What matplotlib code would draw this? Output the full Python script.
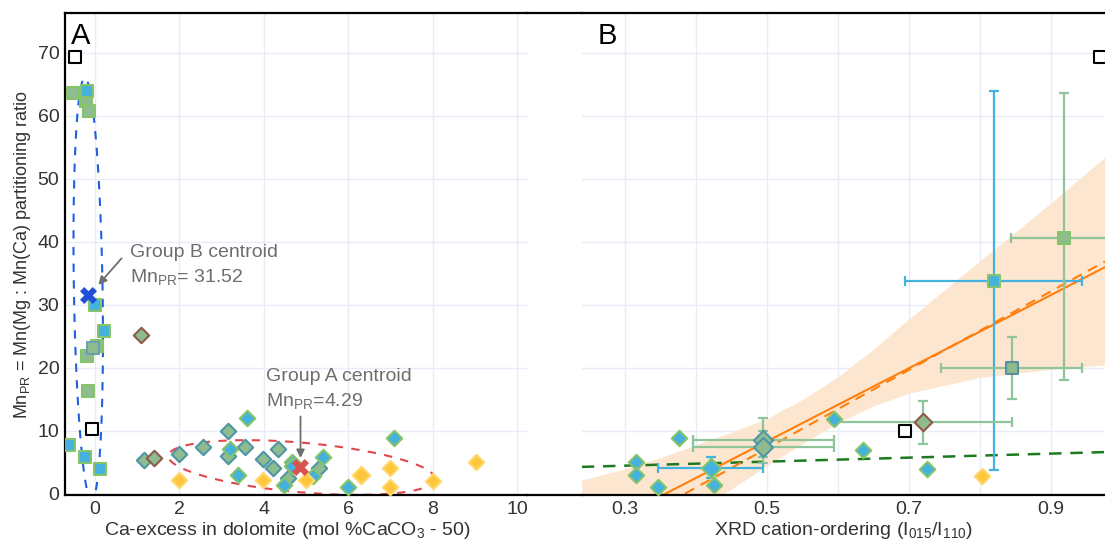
"""Mn partitioning ratio vs Ca-excess (A) and XRD cation ordering (B)."""

import numpy as np
import matplotlib
matplotlib.use("Agg")
import matplotlib.pyplot as plt
from matplotlib.lines import Line2D

plt.rcParams["font.family"] = ["Liberation Sans", "DejaVu Sans"]
plt.rcParams["mathtext.fontset"] = "custom"
plt.rcParams["mathtext.rm"] = "Liberation Sans"
plt.rcParams["mathtext.it"] = "Liberation Sans:italic"

# ---- panel A data (Ca-excess, MnPR) ----
a_open_x = [-0.47, -0.06]
a_open_y = [69.4, 10.3]
a_gsq_x = [-0.53, -0.21, -0.13, -0.18, -0.16, 0.05]
a_gsq_y = [63.7, 62.3, 60.8, 21.9, 16.3, 23.5]
a_tsq_x = [-0.04]
a_tsq_y = [23.1]
a_bsq_x = [-0.18, 0.0, 0.22, -0.61, -0.24, 0.13]
a_bsq_y = [63.9, 30.0, 25.8, 7.7, 5.9, 3.9]
a_tdia_x = [1.15, 2.0, 2.55, 3.16, 3.16, 3.56, 3.99, 4.21, 4.33, 4.57, 5.31]
a_tdia_y = [5.4, 6.3, 7.5, 10.0, 6.0, 7.4, 5.6, 4.1, 7.2, 2.6, 4.2]
a_brdia_x = [1.1, 1.4]
a_brdia_y = [25.2, 5.7]
a_bdia_x = [3.6, 3.2, 3.38, 4.49, 4.68, 4.68, 5.17, 5.41, 6.0, 7.09]
a_bdia_y = [12.0, 7.1, 3.0, 1.5, 5.1, 4.4, 2.9, 5.9, 1.1, 8.9]
a_ydia_x = [2.0, 3.99, 5.0, 7.0, 7.0, 8.02, 9.03]
a_ydia_y = [2.2, 2.2, 2.2, 4.1, 1.1, 2.0, 5.0]
a_ydia_big_x = [6.3]
a_ydia_big_y = [3.0]
centroid_b = (-0.16, 31.52)
centroid_a = (4.87, 4.29)

# ---- panel B data (XRD ordering, MnPR) ----
b_bdia_x = [0.376, 0.316, 0.316, 0.346, 0.426, 0.594, 0.635, 0.725]
b_bdia_y = [8.9, 5.0, 3.0, 1.1, 1.5, 11.9, 7.0, 4.0]
b_ydia_x = [0.803]
b_ydia_y = [2.9]
b_open_x = [0.694, 0.969]
b_open_y = [10.0, 69.4]
# error-bar points: x, y, x_lo, x_hi, y_lo, y_hi
b_err_bdia = [(0.421, 4.2, 0.346, 0.495, 2.5, 5.9)]
b_err_tdia = [(0.495, 8.6, 0.396, 0.595, 5.9, 12.1),
              (0.495, 7.4, 0.396, 0.595, 4.9, 10.0)]
b_err_brdia = [(0.719, 11.5, 0.594, 0.845, 8.0, 14.8)]
b_err_tsq = [(0.845, 20.0, 0.745, 0.943, 15.0, 24.9)]
b_err_bsq = [(0.819, 33.8, 0.694, 0.943, 3.8, 63.9)]
b_err_gsq = [(0.918, 40.7, 0.844, 1.05, 18.1, 63.6)]

# regression lines and confidence band (panel B)
fit_x = [0.239, 0.976]
fit_solid = [-6.8, 36.0]
fit_dashed = [-9.0, 36.9]
fit_green = [4.3, 6.65]
band_x = [0.239, 0.30, 0.35, 0.40, 0.45, 0.50, 0.55, 0.60, 0.65, 0.70, 0.80, 0.90, 0.976]
band_hi = [2.2, 4.0, 5.8, 7.8, 9.8, 12.0, 15.0, 18.6, 23.0, 27.8, 37.0, 46.2, 53.5]
band_lo = [-15, -10, -6, -2.5, 0.8, 4.5, 8.0, 11.3, 14.0, 16.0, 18.5, 19.8, 20.5]

# colours
BLUE = "#45b1df"
LGREEN = "#86c46a"
SAGE = "#8fbc8f"
TEAL = "#4f95a8"
BROWN = "#8b5a4a"
YELLOW = "#ffc53d"
YEDGE = "#ffd86e"
GERR = "#8fc39a"
GRID = "#e8ecf8"
GREYTXT = "#6e6e6e"
TXT = "#333333"

DS = 62   # small diamond
SS = 72   # square


def style_axis(ax, xlim, ylim):
    ax.set_xlim(*xlim)
    ax.set_ylim(*ylim)
    ax.grid(True, which="both", color=GRID, lw=1.0, zorder=0)
    ax.set_axisbelow(True)
    ax.spines["right"].set_visible(False)
    for side in ("top", "bottom", "left"):
        ax.spines[side].set_linewidth(1.6)
    ax.tick_params(length=0, labelsize=14, pad=4, colors=TXT)


def scatter(ax, x, y, marker, fc, ec, s, lw=1.5, z=5):
    ax.scatter(x, y, marker=marker, s=s, facecolor=fc, edgecolor=ec,
               linewidths=lw, zorder=z)


def errpoints(ax, pts, color, marker, fc, ec, s):
    for x, y, xl, xh, yl, yh in pts:
        ax.errorbar([x], [y], xerr=[[x - xl], [xh - x]], yerr=[[y - yl], [yh - y]],
                    fmt="none", ecolor=color, elinewidth=1.6, capsize=3.5,
                    capthick=1.6, zorder=3)
        scatter(ax, [x], [y], marker, fc, ec, s, z=6)


fig = plt.figure(figsize=(11.05, 5.44), dpi=100)
axA = fig.add_axes([0.0588, 0.0901, 0.4181, 0.886])
axB = fig.add_axes([0.5267, 0.0901, 0.4733, 0.886])

ylim = (-0.16, 76.34)
style_axis(axA, (-0.711, 10.237), ylim)
style_axis(axB, (0.2394, 0.976), ylim)
axB.spines["left"].set_visible(False)

# ---- panel A ----
axA.set_xticks([0, 2, 4, 6, 8, 10])
axA.set_yticks(range(0, 80, 10))

t = np.linspace(0, 2 * np.pi, 300)
# group B ellipse
ex = -0.16 + 0.34 * np.cos(t) - 0.08 * np.sin(t)
ey = 32.5 + 33.5 * np.sin(t)
axA.plot(ex, ey, ls=(0, (4, 4)), color="#1f5fe0", lw=1.5, zorder=2)
# group A ellipse
ex = 4.9 + 3.16 * np.cos(t)
ey = 4.2 - 1.8 * np.cos(t) + 3.95 * np.sin(t)
axA.plot(ex, ey, ls=(0, (4, 4)), color="#e0474c", lw=1.5, zorder=2)

scatter(axA, a_open_x, a_open_y, "s", "white", "black", SS)
scatter(axA, a_gsq_x, a_gsq_y, "s", SAGE, LGREEN, SS)
scatter(axA, a_tsq_x, a_tsq_y, "s", SAGE, "#6aa0b0", SS)
scatter(axA, a_bsq_x, a_bsq_y, "s", BLUE, LGREEN, SS)
scatter(axA, a_tdia_x, a_tdia_y, "D", SAGE, TEAL, DS)
scatter(axA, a_brdia_x, a_brdia_y, "D", SAGE, BROWN, DS)
scatter(axA, a_bdia_x, a_bdia_y, "D", BLUE, LGREEN, DS)
scatter(axA, a_ydia_x, a_ydia_y, "D", YELLOW, YEDGE, DS)
scatter(axA, a_ydia_big_x, a_ydia_big_y, "D", YELLOW, YEDGE, 80)
axA.scatter([centroid_b[0]], [centroid_b[1]], marker="X", s=150, color="#1f4fd8",
            zorder=7, linewidths=0)
axA.scatter([centroid_a[0]], [centroid_a[1]], marker="X", s=150, color="#d9534f",
            zorder=7, linewidths=0)

axA.annotate("", xy=(0.08, 33.2), xytext=(0.63, 37.4),
             arrowprops=dict(arrowstyle="-|>", color=GREYTXT, lw=1.3,
                             mutation_scale=12, shrinkA=0, shrinkB=0), zorder=8)
axA.text(0.83, 38.4, "Group B centroid", color=GREYTXT, fontsize=14, va="center")
axA.text(0.83, 34.4, "Mn$_{\\mathrm{PR}}$= 31.52", color=GREYTXT, fontsize=14,
         va="center")
axA.annotate("", xy=(4.87, 5.7), xytext=(4.87, 12.3),
             arrowprops=dict(arrowstyle="-|>", color=GREYTXT, lw=1.3,
                             mutation_scale=12, shrinkA=0, shrinkB=0), zorder=8)
axA.text(4.05, 18.6, "Group A centroid", color=GREYTXT, fontsize=14, va="center")
axA.text(4.05, 14.8, "Mn$_{\\mathrm{PR}}$=4.29", color=GREYTXT, fontsize=14,
         va="center")

axA.text(0.012, 0.982, "A", transform=axA.transAxes, fontsize=21, va="top")
axA.set_xlabel("Ca-excess in dolomite (mol %CaCO$_3$ - 50)", fontsize=14,
               color=TXT)
axA.xaxis.set_label_coords(0.482, -0.052)
axA.xaxis.label.set_va("top")
axA.set_ylabel("Mn$_{\\mathrm{PR}}$ = Mn(Mg : Mn(Ca) partitioning ratio",
               fontsize=13, labelpad=3, color=TXT)

# ---- panel B ----
axB.set_xticks([0.3, 0.5, 0.7, 0.9])
axB.set_xticks([0.4, 0.6, 0.8], minor=True)
axB.set_yticks(range(0, 80, 10))
axB.tick_params(axis="y", labelleft=False)
axB.tick_params(which="minor", length=0)

axB.fill_between(band_x, band_lo, band_hi, color="#fde6cf", lw=0, zorder=1)
axB.plot(fit_x, fit_green, ls=(0, (5, 3.5)), color="#1e7a1e", lw=1.8, zorder=2)
axB.plot(fit_x, fit_solid, color="#ff7f0e", lw=1.5, zorder=2)
axB.plot(fit_x, fit_dashed, ls=(0, (5, 3.5)), color="#ff7f0e", lw=1.5, zorder=2)

errpoints(axB, b_err_bsq, BLUE, "s", BLUE, LGREEN, SS)
errpoints(axB, b_err_gsq, GERR, "s", SAGE, LGREEN, SS)
errpoints(axB, b_err_tsq, GERR, "s", SAGE, "#5a8fa0", SS)
errpoints(axB, b_err_brdia, GERR, "D", SAGE, BROWN, 80)
errpoints(axB, b_err_tdia, GERR, "D", SAGE, TEAL, 95)
errpoints(axB, b_err_bdia, BLUE, "D", BLUE, LGREEN, 95)
scatter(axB, b_bdia_x, b_bdia_y, "D", BLUE, LGREEN, DS)
scatter(axB, b_ydia_x, b_ydia_y, "D", YELLOW, YEDGE, DS)
scatter(axB, b_open_x, b_open_y, "s", "white", "black", SS)

axB.text(0.03, 0.982, "B", transform=axB.transAxes, fontsize=21, va="top")
axB.set_xlabel("XRD cation-ordering (I$_{015}$/I$_{110}$)", fontsize=14,
               color=TXT)
axB.xaxis.set_label_coords(0.5, -0.052)
axB.xaxis.label.set_va("top")

# top and bottom frame lines run across the gap between the panels
for yf in (0.0901, 0.976):
    fig.add_artist(Line2D([0.4769, 0.5267], [yf, yf], transform=fig.transFigure,
                          color="black", lw=1.6))

fig.savefig("out.png", dpi=100)
